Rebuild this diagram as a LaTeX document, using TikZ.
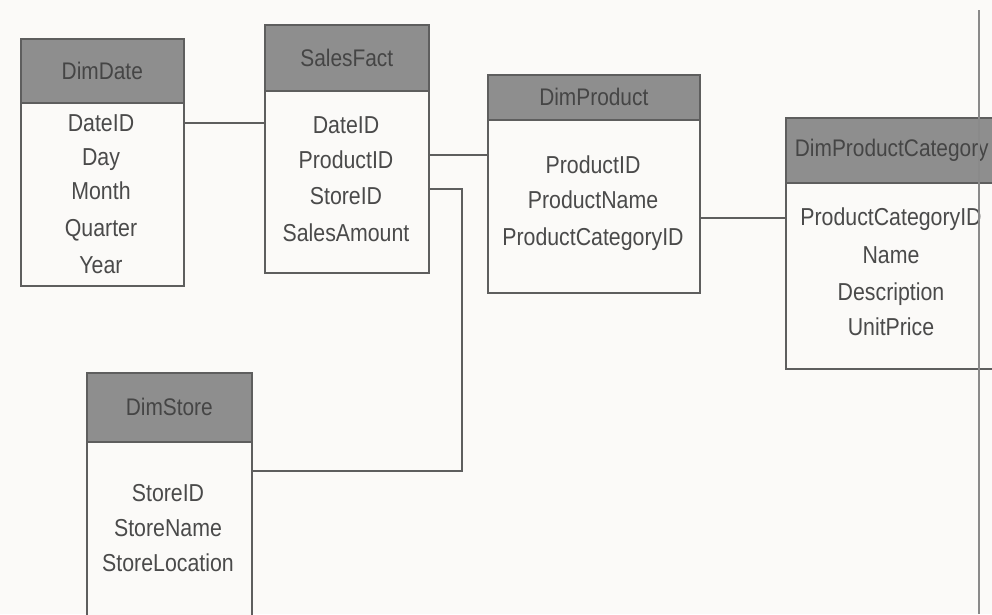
\documentclass[tikz,border=0pt]{standalone}
\usepackage{fontspec}
\setmainfont{Liberation Sans}[FakeStretch=0.87]
\definecolor{paper}{HTML}{FBFAF8}
\definecolor{boxline}{HTML}{5E5E5E}
\definecolor{headfill}{HTML}{8E8E8E}
\definecolor{headtext}{HTML}{454545}
\definecolor{fieldtext}{HTML}{4A4A4A}
\definecolor{foldline}{HTML}{8A8A8A}
\begin{document}
\begin{tikzpicture}[x=1pt,y=-1pt,
  tablebox/.style={draw=boxline, line width=1.6pt, fill=paper, anchor=north west, inner sep=0pt},
  header/.style={draw=boxline, line width=1.6pt, fill=headfill, text=headtext, anchor=north west,
    inner sep=0pt, font=\fontsize{24}{24}\selectfont},
  field/.style={text=fieldtext, inner sep=0pt, text height=17.5pt, text depth=0pt,
    font=\fontsize{24.5}{24.5}\selectfont},
  link/.style={draw=boxline, line width=1.6pt}]

% page
\fill[paper] (0,0) rectangle (992,614);
\useasboundingbox (0,0) rectangle (992,614);
\clip (0,0) rectangle (992,614);

% DimDate
\node[tablebox, minimum width=163pt, minimum height=247pt] (date) at (20,38) {};
\node[header, minimum width=163pt, minimum height=64pt] (dateh) at (20,38) {DimDate};
\node[field] (dDateID)  at (101,123) {DateID};
\node[field] (dDay)     at (101,157) {Day};
\node[field] (dMonth)   at (101,191) {Month};
\node[field] (dQuarter) at (101,228) {Quarter};
\node[field] (dYear)    at (101,265) {Year};

% SalesFact
\node[tablebox, minimum width=164pt, minimum height=248pt] (fact) at (264,24) {};
\node[header, minimum width=164pt, minimum height=66pt] (facth) at (264,24) {SalesFact};
\node[field] (fDateID)      at (346,125) {DateID};
\node[field] (fProductID)   at (346,160) {ProductID};
\node[field] (fStoreID)     at (346,196) {StoreID};
\node[field] (fSalesAmount) at (346,233) {SalesAmount};

% DimProduct
\node[tablebox, minimum width=212pt, minimum height=218pt] (prod) at (487,74) {};
\node[header, minimum width=212pt, minimum height=45pt] (prodh) at (487,74) {DimProduct};
\node[field] (pProductID)   at (593,165) {ProductID};
\node[field] (pProductName) at (593,200) {ProductName};
\node[field] (pCategoryID)  at (593,237) {ProductCategoryID};

% DimProductCategory
\node[tablebox, minimum width=212pt, minimum height=251pt] (cat) at (785,117) {};
\node[header, minimum width=212pt, minimum height=65pt] (cath) at (785,117) {DimProductCategory};
\node[field] (cCategoryID)  at (891,217) {ProductCategoryID};
\node[field] (cName)        at (891,255) {Name};
\node[field] (cDescription) at (891,292) {Description};
\node[field] (cUnitPrice)   at (891,327) {UnitPrice};

% DimStore
\node[tablebox, minimum width=165pt, minimum height=270pt] (store) at (86,372) {};
\node[header, minimum width=165pt, minimum height=69pt] (storeh) at (86,372) {DimStore};
\node[field] (sStoreID)       at (168,493) {StoreID};
\node[field] (sStoreName)     at (168,528) {StoreName};
\node[field] (sStoreLocation) at (168,563) {StoreLocation};

% joins
\coordinate (jd)  at (220,123);
\coordinate (jp)  at (455,155);
\coordinate (js1) at (462,189);
\coordinate (js2) at (462,471);
\coordinate (jc)  at (740,218);

\draw[link] (date.east |- jd) -- (fact.west |- jd);
\draw[link] (fact.east |- jp) -- (prod.west |- jp);
\draw[link] (fact.east |- js1) -- (js1) -- (js2) -- (store.east |- js2);
\draw[link] (prod.east |- jc) -- (cat.west |- jc);

% binding fold on the right
\coordinate (foldtop) at (979,10);
\coordinate (foldbot) at (979,614);
\draw[foldline, line width=2pt] (foldtop) -- (foldbot);
\end{tikzpicture}
\end{document}
